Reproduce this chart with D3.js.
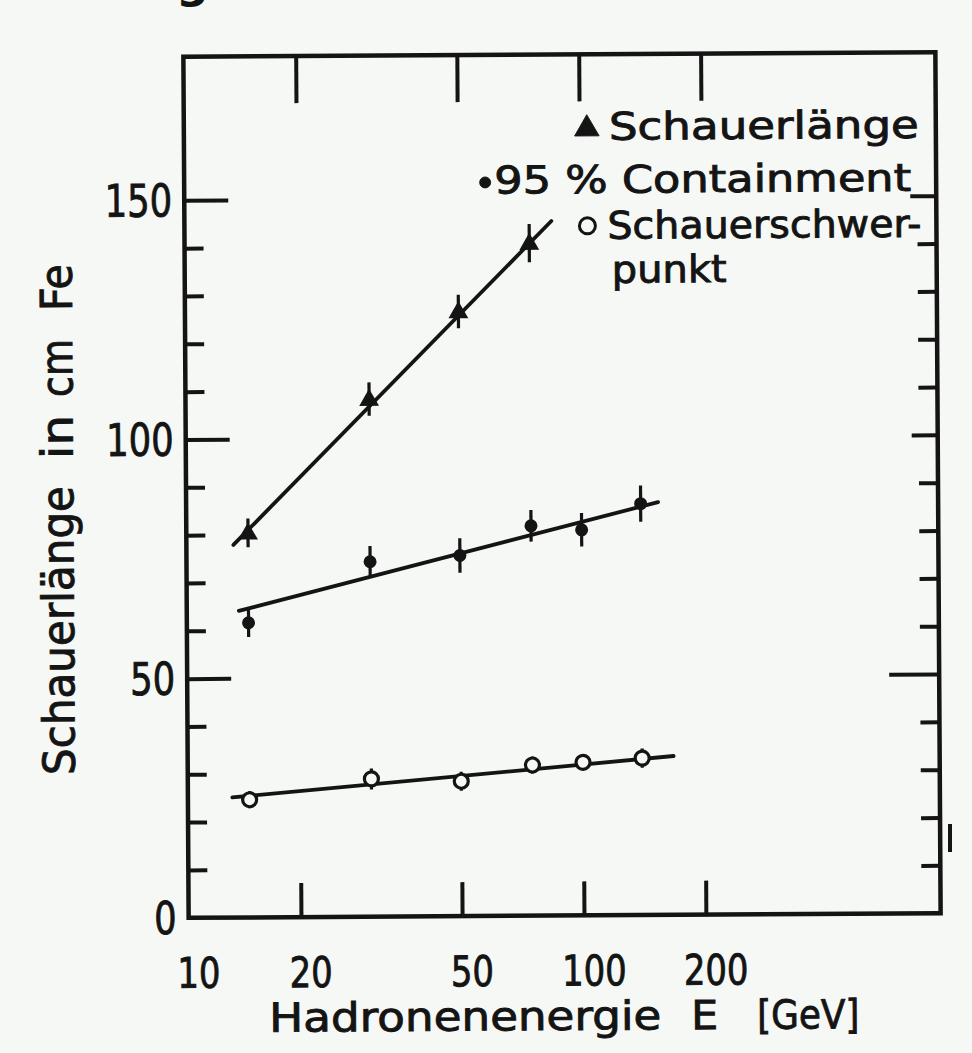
<!DOCTYPE html>
<html>
<head>
<meta charset="utf-8">
<script src="https://cdn.jsdelivr.net/npm/d3@7"></script>
<style>
  html, body { margin: 0; padding: 0; background: #f6f8f5; }
  svg { display: block; }
</style>
</head>
<body>
<svg id="chart" width="972" height="1053"></svg>
<script>
// Hadronic shower dimensions in iron as a function of hadron energy

// Beam energies (GeV)
const energies = [15, 30, 50, 75, 100, 140];

// ▲ Schauerlänge (measured at the first four energies)
const showerLength    = [80.4, 108.2, 126.4, 140.6];
const showerLengthErr = [3.0, 3.5, 3.5, 4.0];

// • 95 % Containment
const containment95    = [61.6, 74.2, 75.4, 81.5, 80.6, 86.0];
const containment95Err = [3.0, 3.3, 3.6, 3.3, 3.5, 3.8];

// o Schauerschwerpunkt
const showerCentroid    = [24.6, 28.8, 28.2, 31.5, 32.0, 32.8];
const showerCentroidErr = [1.8, 2.2, 2.0, 1.8, 1.2, 2.0];

// Drawn trend lines, [E, value] end points
const fitShowerLength = [[13.8, 77.9], [85.1, 145.2]];
const fitContainment  = [[14.2, 64.1], [154.6, 86.3]];
const fitCentroid     = [[13.6, 25.1], [167.4, 33.2]];

// Axis ticks
const xTickValues = [10, 20, 50, 100, 200];
const xTickLabels = ["10", "20", "50", "100", "200"];
const yMajorTicks = [0, 50, 100, 150];
const yMinorTicks = [10, 20, 30, 40, 60, 70, 80, 90, 110, 120, 130, 140];

const legendLabels = ["Schauerlänge", "95 % Containment", "Schauerschwer-", "punkt"];
const xTitleParts = ["Hadronenenergie", "E", "[GeV]"];
const yTitleParts = ["Schauerlänge", "in", "cm", "Fe"];

// ---------------------------------------------------------------
const INK = "#141414";
const BG = "#f6f8f5";
const FONT = "'DejaVu Sans', 'Noto Sans', sans-serif";
const PEN = 0.9;   // extra outline on lettering, drawn with a broad pen

const box = { left: 186, right: 938, top: 54.5, bottom: 915.5 };

const x = d3.scaleLog().domain([10.56, 760]).range([box.left, box.right]);
const y = d3.scaleLinear().domain([0, 180]).range([box.bottom, box.top]);

const svg = d3.select("#chart");
svg.append("rect").attr("width", 972).attr("height", 1053).attr("fill", BG);

// fragment of the heading above the frame
svg.append("text")
  .attr("x", 176).attr("y", -3)
  .attr("font-family", FONT).attr("font-weight", "bold")
  .attr("font-size", 46).attr("fill", INK)
  .text("g");

const g = svg.append("g").attr("transform", "rotate(-0.35 562 485)");

// frame
g.append("rect")
  .attr("x", box.left).attr("y", box.top)
  .attr("width", box.right - box.left).attr("height", box.bottom - box.top)
  .attr("fill", "none").attr("stroke", INK).attr("stroke-width", 4.5);

function styleAxis(sel, width) {
  sel.select(".domain").remove();
  sel.selectAll(".tick line").attr("stroke", INK).attr("stroke-width", width);
}

// x ticks, bottom (inward)
g.append("g").attr("transform", `translate(0,${box.bottom})`)
  .call(d3.axisBottom(x).tickValues(xTickValues.slice(1)).tickSize(-34).tickFormat(""))
  .call(s => styleAxis(s, 4));
// x ticks, top (inward)
g.append("g").attr("transform", `translate(0,${box.top})`)
  .call(d3.axisTop(x).tickValues(xTickValues.slice(1)).tickSize(-47).tickFormat(""))
  .call(s => styleAxis(s, 4));

// x tick labels
g.append("g").selectAll("text").data(xTickValues).join("text")
  .attr("x", d => Math.max(x(d), box.left) + 10)
  .attr("y", box.bottom + 70)
  .attr("text-anchor", "middle")
  .attr("font-family", FONT).attr("font-size", 42).attr("fill", INK)
  .attr("stroke", INK).attr("stroke-width", PEN)
  .attr("textLength", (d, i) => xTickLabels[i].length * 21.5)
  .attr("lengthAdjust", "spacingAndGlyphs")
  .text((d, i) => xTickLabels[i]);

// y ticks, left (inward)
g.append("g").attr("transform", `translate(${box.left},0)`)
  .call(d3.axisLeft(y).tickValues(yMajorTicks.slice(1)).tickSize(-44).tickFormat(""))
  .call(s => styleAxis(s, 4));
g.append("g").attr("transform", `translate(${box.left},0)`)
  .call(d3.axisLeft(y).tickValues(yMinorTicks).tickSize(-19).tickFormat(""))
  .call(s => styleAxis(s, 4));
// y ticks, right (inward)
g.append("g").attr("transform", `translate(${box.right},0)`)
  .call(d3.axisRight(y).tickValues(yMajorTicks.slice(1)).tickSize(-26).tickFormat(""))
  .call(s => styleAxis(s, 4))
  .call(s => s.selectAll(".tick line").attr("x2", d => d === 50 ? -50 : -26));
g.append("g").attr("transform", `translate(${box.right},0)`)
  .call(d3.axisRight(y).tickValues(yMinorTicks).tickSize(-19).tickFormat(""))
  .call(s => styleAxis(s, 4));

// y tick labels
g.append("g").selectAll("text").data(yMajorTicks).join("text")
  .attr("x", box.left - 12)
  .attr("y", d => y(d) + 16)
  .attr("text-anchor", "end")
  .attr("font-family", FONT).attr("font-size", 45).attr("fill", INK)
  .attr("stroke", INK).attr("stroke-width", PEN)
  .attr("textLength", d => String(d).length * 22.5)
  .attr("lengthAdjust", "spacingAndGlyphs")
  .text(d => d);

// axis titles
const xTitle = g.append("g").attr("font-family", FONT).attr("font-size", 40)
  .attr("fill", INK).attr("stroke", INK).attr("stroke-width", PEN);
[[266, 392], [688, 27], [754, 102]].forEach(([x0, len], i) => {
  xTitle.append("text").attr("x", x0).attr("y", 1030)
    .attr("textLength", len).attr("lengthAdjust", "spacingAndGlyphs")
    .text(xTitleParts[i]);
});

const yTitle = g.append("g").attr("transform", "translate(73,0) rotate(-90)")
  .attr("font-family", FONT).attr("font-size", 44)
  .attr("fill", INK).attr("stroke", INK).attr("stroke-width", PEN);
[[-772, 289], [-456, 44], [-394, 58], [-308, 47]].forEach(([y0, len], i) => {
  yTitle.append("text").attr("x", y0).attr("y", 0)
    .attr("textLength", len).attr("lengthAdjust", "spacingAndGlyphs")
    .text(yTitleParts[i]);
});

// trend lines
const line = d3.line().x(d => x(d[0])).y(d => y(d[1]));
[fitShowerLength, fitContainment, fitCentroid].forEach(pts => {
  g.append("path").attr("d", line(pts))
    .attr("fill", "none").attr("stroke", INK).attr("stroke-width", 3.8)
    .attr("stroke-linecap", "round");
});

// error bars
function errorBars(vals, errs) {
  g.append("g").selectAll("line").data(vals).join("line")
    .attr("x1", (d, i) => x(energies[i])).attr("x2", (d, i) => x(energies[i]))
    .attr("y1", (d, i) => y(d - errs[i])).attr("y2", (d, i) => y(d + errs[i]))
    .attr("stroke", INK).attr("stroke-width", 3.2);
}
errorBars(showerLength, showerLengthErr);
errorBars(containment95, containment95Err);
errorBars(showerCentroid, showerCentroidErr);

// markers
const tri = d3.symbol().type(d3.symbolTriangle).size(170);
g.append("g").selectAll("path").data(showerLength).join("path")
  .attr("d", tri)
  .attr("transform", (d, i) => `translate(${x(energies[i])},${y(d) + 1})`)
  .attr("fill", INK);

g.append("g").selectAll("circle").data(containment95).join("circle")
  .attr("cx", (d, i) => x(energies[i])).attr("cy", d => y(d))
  .attr("r", 6.5).attr("fill", INK);

g.append("g").selectAll("circle").data(showerCentroid).join("circle")
  .attr("cx", (d, i) => x(energies[i])).attr("cy", d => y(d))
  .attr("r", 7).attr("fill", BG).attr("stroke", INK).attr("stroke-width", 3.2);

// legend
const leg = g.append("g").attr("font-family", FONT).attr("font-size", 38)
  .attr("fill", INK).attr("stroke", INK).attr("stroke-width", PEN);
leg.append("path").attr("d", d3.symbol().type(d3.symbolTriangle).size(260)())
  .attr("transform", "translate(589,129)").attr("fill", INK);
leg.append("circle").attr("cx", 487).attr("cy", 182).attr("r", 5.5).attr("fill", INK);
leg.append("circle").attr("cx", 589).attr("cy", 226).attr("r", 8)
  .attr("fill", "none").attr("stroke", INK).attr("stroke-width", 3);
[[611, 140, 310], [496, 193, 417], [609, 239, 314], [613, 283, 115]].forEach(([x0, y0, len], i) => {
  leg.append("text").attr("x", x0).attr("y", y0)
    .attr("textLength", len).attr("lengthAdjust", "spacingAndGlyphs")
    .text(legendLabels[i]);
});

// stray pen stroke outside the right edge of the frame
svg.append("line").attr("x1", 950).attr("x2", 950).attr("y1", 824).attr("y2", 852)
  .attr("stroke", INK).attr("stroke-width", 4);
</script>
</body>
</html>
